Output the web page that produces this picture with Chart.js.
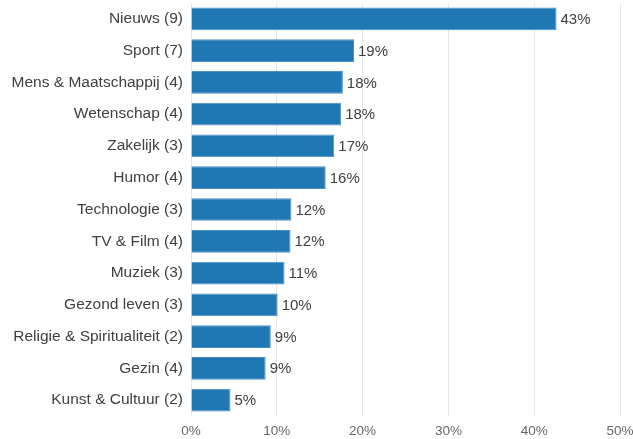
<!DOCTYPE html>
<html>
<head>
<meta charset="utf-8">
<script src="https://cdn.jsdelivr.net/npm/chart.js@4.4.0/dist/chart.umd.min.js"></script>
<style>
    html, body { margin: 0; padding: 0; background: #fff; }
    #wrap { width: 633px; height: 439px; }
</style>
</head>
<body>
<div id="wrap"><canvas id="chart-area"></canvas></div>
<script>
    'use strict';

    // categories (number of podcasts in brackets)
    var categories = [
        'Nieuws (9)',
        'Sport (7)',
        'Mens & Maatschappij (4)',
        'Wetenschap (4)',
        'Zakelijk (3)',
        'Humor (4)',
        'Technologie (3)',
        'TV & Film (4)',
        'Muziek (3)',
        'Gezond leven (3)',
        'Religie & Spiritualiteit (2)',
        'Gezin (4)',
        'Kunst & Cultuur (2)'
    ];
    // share in percent
    var shares = [42.6, 19.0, 17.7, 17.5, 16.7, 15.7, 11.7, 11.6, 10.9, 10.1, 9.3, 8.7, 4.6];
    var xTicks = [0, 10, 20, 30, 40, 50];

    var fontFamily = '"Liberation Sans", Arial, sans-serif';

    // writes "43%" etc. right after each bar
    var barLabels = {
        id: 'barLabels',
        afterDatasetsDraw: function (chart) {
            var ctx = chart.ctx;
            var meta = chart.getDatasetMeta(0);
            ctx.save();
            ctx.font = '15px ' + fontFamily;
            ctx.fillStyle = '#404040';
            ctx.textAlign = 'left';
            ctx.textBaseline = 'middle';
            meta.data.forEach(function (bar, i) {
                ctx.fillText(Math.round(shares[i]) + '%', bar.x + 4, bar.y + 1);
            });
            ctx.restore();
        }
    };

    var ctx = document.getElementById('chart-area').getContext('2d');
    window.myBar = new Chart(ctx, {
        type: 'bar',
        data: {
            labels: categories,
            datasets: [{
                data: shares,
                backgroundColor: '#1f77b4',
                borderColor: '#4a90c8',
                borderWidth: 1,
                barPercentage: 0.715,
                categoryPercentage: 1.0
            }]
        },
        options: {
            indexAxis: 'y',
            responsive: true,
            maintainAspectRatio: false,
            animation: false,
            layout: { padding: { top: 3, right: 13, left: 0, bottom: 0 } },
            plugins: {
                legend: { display: false },
                tooltip: { enabled: false }
            },
            scales: {
                x: {
                    min: 0,
                    max: 50,
                    afterBuildTicks: function (axis) {
                        axis.ticks = xTicks.map(function (v) { return { value: v }; });
                    },
                    afterFit: function (axis) {
                        axis.paddingLeft = 0;
                        axis.paddingRight = 0;
                        axis.height = 23;
                    },
                    grid: { color: '#e6e6e6', drawTicks: false },
                    border: { display: false },
                    ticks: {
                        padding: 7,
                        color: '#666',
                        font: { family: fontFamily, size: 13.5 },
                        callback: function (v) { return v + '%'; }
                    }
                },
                y: {
                    afterFit: function (axis) {
                        axis.paddingTop = 0;
                        axis.paddingBottom = 0;
                        axis.width = 191;
                    },
                    grid: { display: false, drawTicks: false },
                    border: { display: false },
                    ticks: {
                        padding: 8,
                        color: '#404040',
                        font: { family: fontFamily, size: 15.5 }
                    }
                }
            }
        },
        plugins: [barLabels]
    });
</script>
</body>
</html>
